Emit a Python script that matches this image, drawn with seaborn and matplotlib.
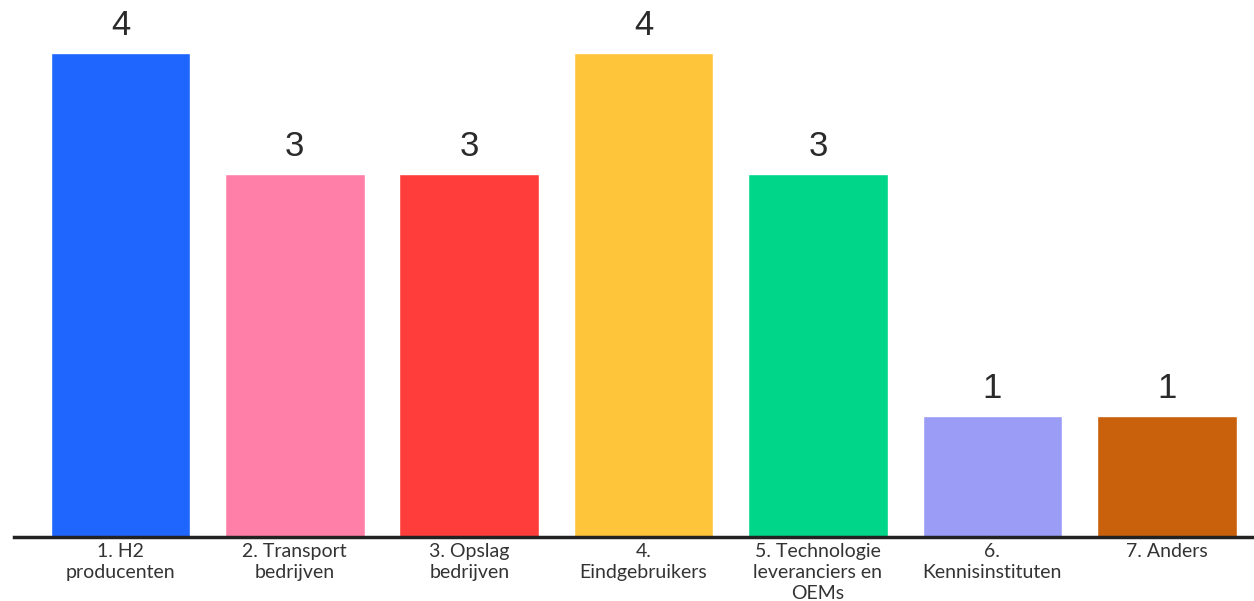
import matplotlib
matplotlib.use("Agg")
import matplotlib.pyplot as plt
import seaborn as sns
import pandas as pd

categories = ["1. H2\nproducenten", "2. Transport\nbedrijven", "3. Opslag\nbedrijven",
              "4.\nEindgebruikers", "5. Technologie\nleveranciers en\nOEMs",
              "6.\nKennisinstituten", "7. Anders"]
values = [4, 3, 3, 4, 3, 1, 1]
colors = ["#1F66FF", "#FF7FA9", "#FF3D3A", "#FFC53A", "#00D68A", "#9A9CF6", "#C9600C"]

sns.set_style("white")
df = pd.DataFrame({"cat": categories, "val": values})

fig = plt.figure(figsize=(12.54, 6.01), dpi=100)
ax = fig.add_axes([14/1254, (601-537)/601, 1 - 14/1254, 537/601])
sns.barplot(data=df, x="cat", y="val", hue="cat", palette=colors, legend=False,
            width=0.8, ax=ax, saturation=1)

ax.set_xlim(-0.61, 6.5)
ax.set_ylim(0, 4.44)
for i, v in enumerate(values):
    ax.text(i, v + 0.09, str(v), ha="center", va="bottom", fontsize=25,
            family="Liberation Sans", color="#2a2a2a")

for s in ["top", "right", "left"]:
    ax.spines[s].set_visible(False)
ax.spines["bottom"].set_linewidth(2.5)
ax.spines["bottom"].set_color("#222222")
ax.set_yticks([])
ax.set_xlabel("")
ax.set_ylabel("")
ax.tick_params(axis="x", length=0, pad=4)
for lbl in ax.get_xticklabels():
    lbl.set_fontfamily("Lato")
    lbl.set_fontsize(14)
    lbl.set_color("#333333")
    lbl.set_linespacing(1.3)

fig.savefig("out.png", dpi=100)
